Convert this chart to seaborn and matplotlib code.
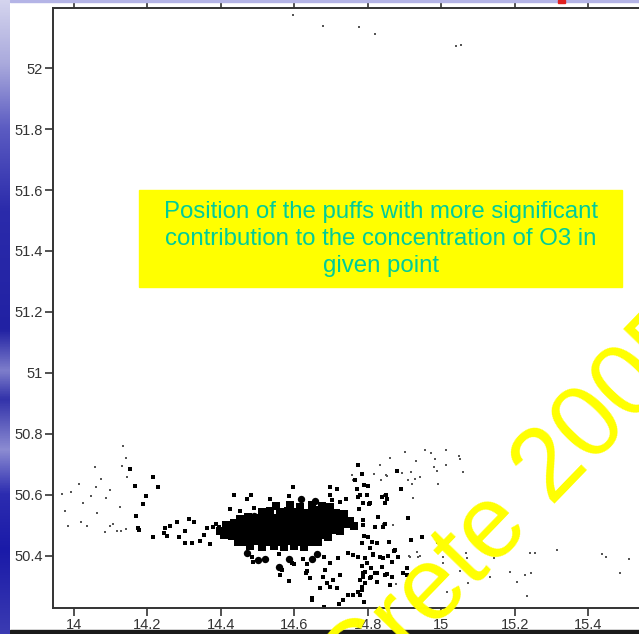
import matplotlib
matplotlib.use("Agg")
import numpy as np
import pandas as pd
import matplotlib.pyplot as plt
from matplotlib.patches import Rectangle
from matplotlib.colors import LinearSegmentedColormap
import seaborn as sns

# ---- axis ticks -------------------------------------------------------------
x_ticks = [14.0, 14.2, 14.4, 14.6, 14.8, 15.0, 15.2, 15.4]
x_tick_labels = ["14", "14.2", "14.4", "14.6", "14.8", "15", "15.2", "15.4"]
y_ticks = [50.4, 50.6, 50.8, 51.0, 51.2, 51.4, 51.6, 51.8, 52.0]
y_tick_labels = ["50.4", "50.6", "50.8", "51", "51.2", "51.4", "51.6", "51.8", "52"]

# ---- puff positions (lon, lat) ---------------------------------------------
# faint trace puffs
trace_pts = [
    (14.596, 52.173), (14.678, 52.137), (14.776, 52.134), (14.819, 52.111),
    (15.039, 52.072), (15.053, 52.075),
    (14.133, 50.761), (14.141, 50.722), (14.057, 50.692), (14.131, 50.696),
    (14.144, 50.659), (14.073, 50.653), (14.014, 50.636), (14.060, 50.627),
    (14.098, 50.617), (13.992, 50.610), (13.967, 50.604), (14.046, 50.597),
    (14.087, 50.590), (14.024, 50.574), (14.125, 50.561), (13.976, 50.548),
    (14.063, 50.541), (14.019, 50.512), (14.106, 50.505), (14.098, 50.499),
    (13.984, 50.499), (14.035, 50.499), (14.141, 50.489), (14.128, 50.482),
    (14.117, 50.482), (14.084, 50.479),
    (14.901, 50.742), (14.955, 50.748), (14.971, 50.738), (15.012, 50.748),
    (15.048, 50.728), (15.050, 50.719), (14.860, 50.722), (14.931, 50.712),
    (14.982, 50.719), (15.012, 50.699), (14.980, 50.692), (14.988, 50.679),
    (15.059, 50.676), (14.917, 50.676), (14.909, 50.650), (14.928, 50.653),
    (14.941, 50.659), (14.920, 50.636), (14.990, 50.636), (14.922, 50.590),
    (14.868, 50.502), (14.849, 50.666), (14.833, 50.699), (14.852, 50.663),
    (14.835, 50.650), (14.816, 50.669), (14.756, 50.666), (14.759, 50.650),
    (14.893, 50.673), (14.844, 50.600), (14.841, 50.505),
    (14.988, 50.443), (15.004, 50.397), (14.933, 50.413), (14.936, 50.397),
    (14.914, 50.397), (15.004, 50.377), (15.067, 50.410), (15.069, 50.393),
    (15.143, 50.393), (15.173, 50.410), (15.241, 50.410), (15.254, 50.410),
    (15.314, 50.420), (15.439, 50.407), (15.448, 50.397), (15.510, 50.390),
    (15.050, 50.351), (15.072, 50.311), (15.015, 50.282), (15.132, 50.331),
    (15.186, 50.347), (15.205, 50.315), (15.227, 50.338), (15.244, 50.344),
    (15.233, 50.269), (15.488, 50.344), (14.941, 50.400), (14.912, 50.400),
    (14.876, 50.308),
]

# medium puffs
puff_pts = [
    (14.152, 50.686), (14.166, 50.630), (14.169, 50.531), (14.174, 50.492),
    (14.178, 50.485), (14.215, 50.659), (14.229, 50.627), (14.196, 50.597),
    (14.188, 50.571),
    (14.215, 50.462), (14.248, 50.492), (14.261, 50.499), (14.280, 50.512),
    (14.313, 50.522), (14.327, 50.512), (14.302, 50.482), (14.286, 50.462),
    (14.245, 50.476), (14.253, 50.466), (14.302, 50.443), (14.321, 50.443),
    (14.343, 50.449), (14.354, 50.469), (14.362, 50.492), (14.378, 50.495),
    (14.386, 50.505), (14.395, 50.495), (14.370, 50.439),
    (14.424, 50.554), (14.452, 50.548), (14.435, 50.600), (14.471, 50.587),
    (14.482, 50.600), (14.490, 50.558), (14.533, 50.587), (14.550, 50.558),
    (14.596, 50.627), (14.585, 50.597), (14.697, 50.627), (14.716, 50.620),
    (14.697, 50.600),
    (14.773, 50.699), (14.784, 50.669), (14.770, 50.620), (14.778, 50.600),
    (14.797, 50.600), (14.786, 50.574), (14.805, 50.574), (14.776, 50.554),
    (14.786, 50.518), (14.786, 50.502), (14.827, 50.528), (14.819, 50.495),
    (14.841, 50.495), (14.846, 50.574), (14.849, 50.600), (14.765, 50.650),
    (14.789, 50.633), (14.800, 50.630), (14.740, 50.587), (14.702, 50.584),
    (14.724, 50.577), (14.773, 50.594), (14.803, 50.571), (14.838, 50.594),
    (14.852, 50.587), (14.890, 50.620), (14.879, 50.679), (14.909, 50.525),
    (14.947, 50.462), (14.917, 50.453), (14.857, 50.446), (14.873, 50.420),
    (14.846, 50.505),
    (14.824, 50.443), (14.784, 50.443), (14.789, 50.466), (14.800, 50.462),
    (14.811, 50.446), (14.871, 50.416), (14.854, 50.400), (14.882, 50.397),
    (14.865, 50.380), (14.833, 50.397), (14.814, 50.407), (14.841, 50.393),
    (14.906, 50.361), (14.895, 50.344), (14.906, 50.338), (14.852, 50.341),
    (14.865, 50.331), (14.824, 50.344), (14.824, 50.315), (14.808, 50.331),
    (14.860, 50.305),
    (14.792, 50.393), (14.784, 50.367), (14.797, 50.377), (14.808, 50.361),
    (14.786, 50.344), (14.778, 50.321), (14.784, 50.298), (14.773, 50.282),
    (14.778, 50.272), (14.789, 50.249), (14.759, 50.272), (14.746, 50.272),
    (14.732, 50.256), (14.721, 50.242), (14.680, 50.231), (14.648, 50.256),
    (14.805, 50.328), (14.819, 50.344), (14.846, 50.338), (14.838, 50.364),
    (14.814, 50.403), (14.805, 50.426),
    (14.484, 50.397), (14.558, 50.407), (14.599, 50.374), (14.561, 50.338),
    (14.585, 50.318), (14.623, 50.390), (14.634, 50.374), (14.680, 50.397),
    (14.697, 50.377), (14.631, 50.344), (14.642, 50.328), (14.683, 50.354),
    (14.678, 50.331), (14.688, 50.311), (14.705, 50.321), (14.724, 50.338),
    (14.718, 50.393), (14.746, 50.410), (14.759, 50.403), (14.773, 50.397),
    (14.792, 50.348), (14.786, 50.331), (14.792, 50.311), (14.784, 50.288),
    (14.716, 50.295), (14.697, 50.298), (14.669, 50.295), (14.648, 50.262),
    (14.487, 50.380), (14.566, 50.354), (14.593, 50.377), (14.634, 50.351),
]

# large puffs
heavy_pts = [
    (14.490, 50.531), (14.618, 50.587), (14.656, 50.581), (14.471, 50.410),
    (14.501, 50.387), (14.520, 50.390), (14.558, 50.364), (14.585, 50.390),
    (14.648, 50.390), (14.661, 50.407), (14.705, 50.528),
]

# densely packed puffs near the source
core_pts = [
    (14.550, 50.562), (14.588, 50.566), (14.615, 50.561), (14.648, 50.567),
    (14.675, 50.563), (14.697, 50.560),
    (14.512, 50.543), (14.533, 50.547), (14.561, 50.544), (14.582, 50.548),
    (14.604, 50.545), (14.626, 50.542), (14.648, 50.546), (14.669, 50.549),
    (14.691, 50.544), (14.713, 50.541), (14.735, 50.538),
    (14.452, 50.522), (14.473, 50.527), (14.495, 50.524), (14.517, 50.528),
    (14.539, 50.525), (14.561, 50.523), (14.582, 50.527), (14.604, 50.524),
    (14.626, 50.526), (14.648, 50.523), (14.669, 50.527), (14.691, 50.524),
    (14.713, 50.521), (14.735, 50.522), (14.751, 50.516),
    (14.414, 50.502), (14.435, 50.507), (14.457, 50.504), (14.479, 50.506),
    (14.501, 50.503), (14.522, 50.507), (14.544, 50.505), (14.566, 50.502),
    (14.588, 50.506), (14.610, 50.504), (14.631, 50.507), (14.653, 50.503),
    (14.675, 50.506), (14.697, 50.504), (14.718, 50.501), (14.740, 50.505),
    (14.762, 50.498),
    (14.397, 50.483), (14.419, 50.487), (14.441, 50.484), (14.463, 50.486),
    (14.484, 50.482), (14.506, 50.487), (14.528, 50.485), (14.550, 50.483),
    (14.571, 50.487), (14.593, 50.484), (14.615, 50.486), (14.637, 50.483),
    (14.658, 50.487), (14.680, 50.484), (14.702, 50.486), (14.724, 50.481),
    (14.408, 50.468), (14.430, 50.464), (14.452, 50.467), (14.473, 50.463),
    (14.495, 50.468), (14.517, 50.465), (14.539, 50.467), (14.561, 50.464),
    (14.582, 50.468), (14.604, 50.465), (14.626, 50.467), (14.648, 50.464),
    (14.669, 50.468), (14.691, 50.463),
    (14.446, 50.447), (14.468, 50.444), (14.490, 50.448), (14.512, 50.445),
    (14.533, 50.447), (14.555, 50.444), (14.577, 50.448), (14.599, 50.446),
    (14.620, 50.444), (14.642, 50.447), (14.664, 50.445),
    (14.479, 50.431), (14.512, 50.428), (14.544, 50.432), (14.571, 50.429),
    (14.599, 50.431), (14.626, 50.428),
]

# stripe colours of the slide's left border (top to bottom)
border_stops = [
    (0.00, "#d4d4ee"), (0.10, "#a9a9dc"), (0.20, "#5c5cc2"), (0.33, "#2b2bab"),
    (0.52, "#2121a3"), (0.585, "#7e7ecb"), (0.63, "#3232aa"), (0.71, "#8c8cd2"),
    (0.78, "#2c2cb0"), (0.87, "#1a1aa8"), (1.00, "#3b3bb2"),
]

sns.set_theme(style="ticks")
plt.rcParams["font.family"] = ["Liberation Sans", "DejaVu Sans"]

fig = plt.figure(figsize=(6.39, 6.34), dpi=100)
fig.patch.set_facecolor("white")
ax = fig.add_axes([53 / 639, 26 / 634, 595 / 639, 600 / 634])
ax.set_facecolor("white")


def frame(points):
    return pd.DataFrame(points, columns=["lon", "lat"])


sns.scatterplot(data=frame(trace_pts), x="lon", y="lat", marker="s", s=2,
                color="#555555", linewidth=0, ax=ax)
sns.scatterplot(data=frame(core_pts), x="lon", y="lat", marker="s", s=30,
                color="black", linewidth=0, ax=ax)
sns.scatterplot(data=frame(puff_pts), x="lon", y="lat", marker="s", s=11,
                color="black", linewidth=0, ax=ax)
sns.scatterplot(data=frame(heavy_pts), x="lon", y="lat", marker="o", s=28,
                color="black", linewidth=0, ax=ax)

ax.set_xlim(13.943, 15.563)
ax.set_ylim(50.229, 52.197)
ax.set_xticks(x_ticks)
ax.set_xticklabels(x_tick_labels)
ax.set_yticks(y_ticks)
ax.set_yticklabels(y_tick_labels)
ax.set_xlabel("")
ax.set_ylabel("")
for side in ["left", "bottom", "top", "right"]:
    ax.spines[side].set_color("#333333")
    ax.spines[side].set_linewidth(1.4)
ax.tick_params(axis="both", direction="out", length=6, width=1.2,
               color="#333333", labelcolor="#333333", labelsize=10.5, pad=1.5)
ax.tick_params(axis="x", top=True, labeltop=False)

# slide decorations
strip = fig.add_axes([0, 0, 10 / 639, 1], zorder=20)
cmap = LinearSegmentedColormap.from_list("border", border_stops)
strip.imshow(np.linspace(0, 1, 256).reshape(-1, 1), cmap=cmap, aspect="auto",
             extent=[0, 1, 0, 1], origin="upper")
strip.set_axis_off()
fig.add_artist(Rectangle((10 / 639, 1 - 2 / 634), 1, 2 / 634,
                         transform=fig.transFigure, color="#b4b4e6", zorder=15))
fig.add_artist(Rectangle((558 / 639, 1 - 3 / 634), 7 / 639, 3 / 634,
                         transform=fig.transFigure, color="#e02020", zorder=16))
fig.add_artist(Rectangle((10 / 639, 0), 1, 4 / 634,
                         transform=fig.transFigure, color="#1a1a1a", zorder=15))

# annotation box
fig.add_artist(Rectangle((139 / 639, (634 - 287) / 634), 483 / 639, 97 / 634,
                         transform=fig.transFigure, color="#ffff00", zorder=12))
fig.text(381 / 639, 1 - 239 / 634,
         "Position of the puffs with more significant\n"
         "contribution to the concentration of O3 in\n"
         "given point",
         ha="center", va="center", fontsize=17.3, color="#00cc99",
         linespacing=1.3, zorder=13)

# watermark
fig.text(515 / 639, (634 - 507) / 634, "Crete 2005", rotation=46,
         rotation_mode="anchor", ha="center", va="center", fontsize=74,
         color="#ffff00", zorder=18)

fig.savefig("out.png", dpi=100)
